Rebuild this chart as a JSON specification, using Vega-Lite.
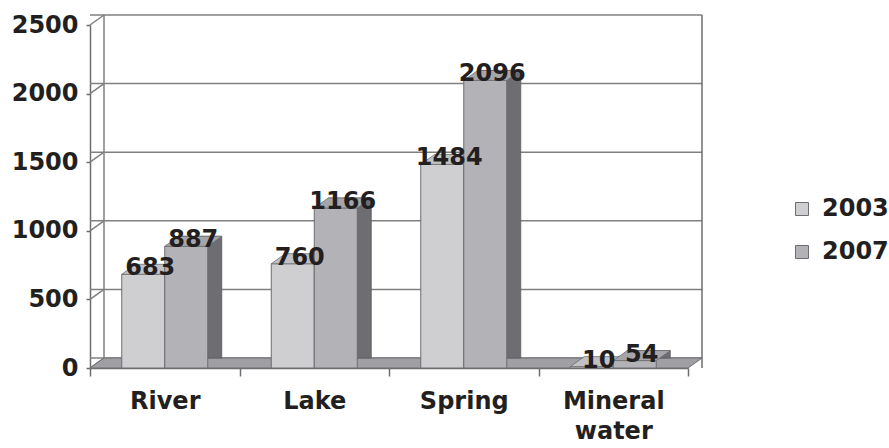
{
  "$schema": "https://vega.github.io/schema/vega-lite/v6.json",
  "width": 598,
  "height": 343,
  "autosize": {"type": "none"},
  "padding": {"left": 90, "top": 25, "right": 201, "bottom": 80},
  "background": "white",
  "config": {"view": {"stroke": null}, "font": "DejaVu Sans"},
  "datasets": {
    "water": [
      {"source": "River", "year": "2003", "count": 683},
      {"source": "River", "year": "2007", "count": 887},
      {"source": "Lake", "year": "2003", "count": 760},
      {"source": "Lake", "year": "2007", "count": 1166},
      {"source": "Spring", "year": "2003", "count": 1484},
      {"source": "Spring", "year": "2007", "count": 2096},
      {"source": "Mineral water", "year": "2003", "count": 10},
      {"source": "Mineral water", "year": "2007", "count": 54}
    ],
    "grid": [{"v": 0}, {"v": 500}, {"v": 1000}, {"v": 1500}, {"v": 2000}, {"v": 2500}],
    "one": [{"k": 1}]
  },
  "layer": [
    {
      "data": {"name": "grid"},
      "mark": {"type": "rule", "xOffset": 14, "yOffset": -10, "color": "#808080", "strokeWidth": 1.5},
      "encoding": {
        "y": {"field": "v", "type": "quantitative", "scale": {"domain": [0, 2500], "nice": false}}
      }
    },
    {
      "data": {"name": "one"},
      "mark": {"type": "rule", "xOffset": 14, "yOffset": -10, "color": "#808080", "strokeWidth": 1.5},
      "encoding": {
        "x": {"datum": "River", "type": "nominal", "bandPosition": 0, "scale": {"domain": ["River", "Lake", "Spring", "Mineral water"], "paddingInner": 0, "paddingOuter": 0}}
      }
    },
    {
      "data": {"name": "one"},
      "mark": {"type": "rule", "xOffset": 14, "yOffset": -10, "color": "#6e6e72", "strokeWidth": 1.5},
      "encoding": {
        "x": {"datum": "Mineral water", "type": "nominal", "bandPosition": 1}
      }
    },
    {
      "data": {"name": "grid"},
      "mark": {"type": "point", "shape": "M 0 0 L 14 -10", "size": 4, "filled": false, "stroke": "#808080", "strokeWidth": 1.5, "opacity": 1},
      "encoding": {
        "x": {"datum": "River", "type": "nominal", "bandPosition": 0},
        "y": {"field": "v", "type": "quantitative", "scale": {"domain": [0, 2500], "nice": false}}
      }
    },
    {
      "data": {"name": "one"},
      "mark": {"type": "point", "shape": "M -299 0 L 299 0 L 313 -10 L -285 -10 Z", "size": 4, "filled": true, "fill": "#a0a0a4", "stroke": "#6e6e72", "strokeWidth": 1, "opacity": 1},
      "encoding": {
        "x": {"datum": "Spring", "type": "nominal", "bandPosition": 0},
        "y": {"datum": 0, "type": "quantitative", "scale": {"domain": [0, 2500], "nice": false}}
      }
    },
    {
      "data": {"name": "water"},
      "transform": [{"filter": "datum.year == '2007'"}],
      "mark": {"type": "bar", "width": 43, "xOffset": 35.5, "yOffset": -10, "fill": "#6e6e72", "stroke": "#5a5a5e", "strokeWidth": 0.8},
      "encoding": {
        "x": {"field": "source", "type": "nominal"},
        "y": {"field": "count", "type": "quantitative", "scale": {"domain": [0, 2500], "nice": false}}
      }
    },
    {
      "data": {"name": "water"},
      "transform": [{"filter": "datum.year == '2003'"}],
      "mark": {"type": "bar", "width": 43, "xOffset": -21.5, "stroke": "#6e6e72", "strokeWidth": 1},
      "encoding": {
        "x": {"field": "source", "type": "nominal", "title": null,
          "axis": {"labelAngle": 0, "labelAlign": "center", "bandPosition": 0.5, "labelFontSize": 24, "labelFontWeight": "bold", "labelColor": "#231f20", "labelFont": "DejaVu Sans", "tickBand": "extent", "tickSize": 8, "tickColor": "#6e6e72", "tickWidth": 1.5, "domainColor": "#6e6e72", "domainWidth": 1.5, "labelPadding": 25, "labelLineHeight": 30, "labelExpr": "datum.value == 'Mineral water' ? ['Mineral', 'water'] : datum.value"}},
        "y": {"field": "count", "type": "quantitative", "title": null, "scale": {"domain": [0, 2500], "nice": false},
          "axis": {"values": [0, 500, 1000, 1500, 2000, 2500], "format": "d", "grid": false, "labelFontSize": 24, "labelFontWeight": "bold", "labelColor": "#231f20", "labelFont": "DejaVu Sans", "tickSize": 4, "tickColor": "#6e6e72", "tickWidth": 1.5, "domainColor": "#6e6e72", "domainWidth": 1.5, "labelPadding": 8}},
        "color": {"field": "year", "type": "nominal", "scale": {"domain": ["2003", "2007"], "range": ["#cfcfd2", "#b3b3b7"]},
          "legend": {"title": null, "orient": "none", "legendX": 700, "legendY": 172, "symbolType": "square", "symbolSize": 169, "symbolStrokeColor": "#6e6e72", "symbolStrokeWidth": 1, "labelFontSize": 24, "labelFont": "DejaVu Sans", "labelFontWeight": "bold", "labelColor": "#231f20", "rowPadding": 19, "labelOffset": 8}}
      }
    },
    {
      "data": {"name": "water"},
      "transform": [{"filter": "datum.year == '2003'"}],
      "mark": {"type": "point", "shape": "M -43 0 L 0 0 L 14 -10 L -29 -10 Z", "size": 4, "filled": true, "fill": "#c2c2c5", "stroke": "#6e6e72", "strokeWidth": 0.8, "opacity": 1},
      "encoding": {
        "x": {"field": "source", "type": "nominal"},
        "y": {"field": "count", "type": "quantitative", "scale": {"domain": [0, 2500], "nice": false}}
      }
    },
    {
      "data": {"name": "water"},
      "transform": [{"filter": "datum.year == '2007'"}],
      "mark": {"type": "bar", "width": 43, "xOffset": 21.5, "stroke": "#6e6e72", "strokeWidth": 1},
      "encoding": {
        "x": {"field": "source", "type": "nominal"},
        "y": {"field": "count", "type": "quantitative", "scale": {"domain": [0, 2500], "nice": false}},
        "color": {"field": "year", "type": "nominal"}
      }
    },
    {
      "data": {"name": "water"},
      "transform": [{"filter": "datum.year == '2007'"}],
      "mark": {"type": "point", "shape": "M 0 0 L 43 0 L 57 -10 L 14 -10 Z", "size": 4, "filled": true, "fill": "#a6a6aa", "stroke": "#6e6e72", "strokeWidth": 0.8, "opacity": 1},
      "encoding": {
        "x": {"field": "source", "type": "nominal"},
        "y": {"field": "count", "type": "quantitative", "scale": {"domain": [0, 2500], "nice": false}}
      }
    },
    {
      "data": {"name": "water"},
      "transform": [{"filter": "datum.year == '2003'"}],
      "mark": {"type": "text", "dx": -14.5, "dy": 1, "baseline": "alphabetic", "fontSize": 24, "fontWeight": "bold", "font": "DejaVu Sans", "color": "#231f20"},
      "encoding": {
        "x": {"field": "source", "type": "nominal"},
        "y": {"field": "count", "type": "quantitative", "scale": {"domain": [0, 2500], "nice": false}},
        "text": {"field": "count", "type": "quantitative"}
      }
    },
    {
      "data": {"name": "water"},
      "transform": [{"filter": "datum.year == '2007'"}],
      "mark": {"type": "text", "dx": 28.5, "dy": 1, "baseline": "alphabetic", "fontSize": 24, "fontWeight": "bold", "font": "DejaVu Sans", "color": "#231f20"},
      "encoding": {
        "x": {"field": "source", "type": "nominal"},
        "y": {"field": "count", "type": "quantitative", "scale": {"domain": [0, 2500], "nice": false}},
        "text": {"field": "count", "type": "quantitative"}
      }
    }
  ]
}
